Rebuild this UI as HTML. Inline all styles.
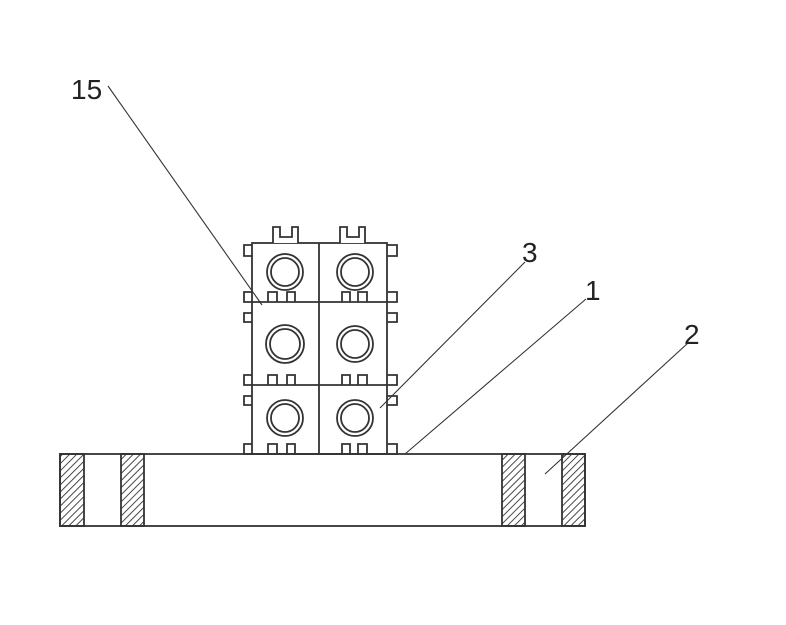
<!DOCTYPE html>
<html><head><style>body{margin:0;background:#fff}svg{display:block}</style></head><body>
<svg width="786" height="625" viewBox="0 0 786 625" xmlns="http://www.w3.org/2000/svg">
<defs>
<pattern id="h" width="5" height="5" patternUnits="userSpaceOnUse" patternTransform="rotate(45)">
<line x1="0" y1="0" x2="0" y2="5" stroke="#333" stroke-width="1.8"/>
</pattern>
</defs>
<g fill="none" stroke="#333" stroke-width="1.8">
<rect x="60" y="454" width="525" height="72" fill="#fff"/>
<rect x="60" y="454" width="24" height="72" fill="url(#h)"/>
<rect x="121" y="454" width="23" height="72" fill="url(#h)"/>
<rect x="502" y="454" width="23" height="72" fill="url(#h)"/>
<rect x="562" y="454" width="23" height="72" fill="url(#h)"/>
<rect x="252" y="243" width="135" height="211"/>
<line x1="319" y1="243" x2="319" y2="454"/>
<line x1="252" y1="302" x2="387" y2="302"/>
<line x1="252" y1="385" x2="387" y2="385"/>
<path d="M273 243 V227 H280 V237 H292 V227 H298 V243" fill="#fff"/>
<path d="M340 243 V227 H347 V237 H359 V227 H365 V243" fill="#fff"/>
<path d="M252 245 H244 V256 H252 M252 292 H244 V302 H252 M252 313 H244 V322 H252 M252 375 H244 V385 H252 M252 396 H244 V405 H252 M252 444 H244 V454 H252"/>
<path d="M387 245 H397 V256 H387 M387 292 H397 V302 H387 M387 313 H397 V322 H387 M387 375 H397 V385 H387 M387 396 H397 V405 H387 M387 444 H397 V454 H387"/>
<path d="M268 302 V292 H277 V302 M287 302 V292 H295 V302 M342 302 V292 H350 V302 M358 302 V292 H367 V302"/>
<path d="M268 385 V375 H277 V385 M287 385 V375 H295 V385 M342 385 V375 H350 V385 M358 385 V375 H367 V385"/>
<path d="M268 454 V444 H277 V454 M287 454 V444 H295 V454 M342 454 V444 H350 V454 M358 454 V444 H367 V454"/>
<circle cx="285" cy="272" r="18"/><circle cx="285" cy="272" r="14"/>
<circle cx="355" cy="272" r="18"/><circle cx="355" cy="272" r="14"/>
<circle cx="285" cy="344" r="19"/><circle cx="285" cy="344" r="15"/>
<circle cx="355" cy="344" r="18"/><circle cx="355" cy="344" r="14"/>
<circle cx="285" cy="418" r="18"/><circle cx="285" cy="418" r="14"/>
<circle cx="355" cy="418" r="18"/><circle cx="355" cy="418" r="14"/>
</g>
<g stroke="#333" stroke-width="1.1">
<line x1="108" y1="86" x2="262" y2="305"/>
<line x1="525" y1="262" x2="380" y2="408"/>
<line x1="586" y1="299" x2="405" y2="454"/>
<line x1="688" y1="343" x2="545" y2="474"/>
</g>
<g font-family="Liberation Sans, sans-serif" font-size="28" fill="#222">
<text x="71" y="99">15</text>
<text x="522" y="262">3</text>
<text x="585" y="300">1</text>
<text x="684" y="344">2</text>
</g>
</svg>
</body></html>
